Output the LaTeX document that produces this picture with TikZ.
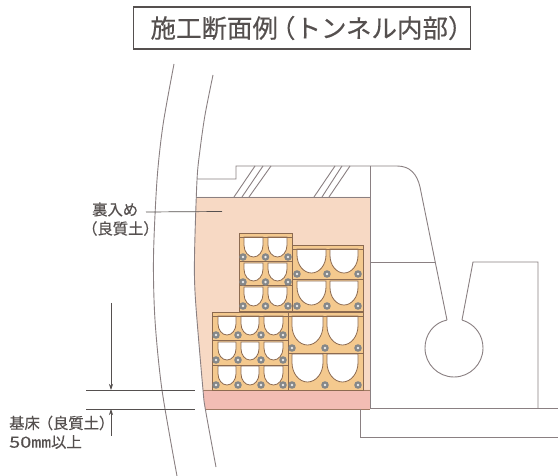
\documentclass[tikz,border=0pt]{standalone}
\usepackage{graphicx}
\usepackage{fontspec}
\setmainfont{Noto Sans CJK JP}[FakeBold=0.35]
\usetikzlibrary{arrows.meta}
\definecolor{linegray}{HTML}{8A8082}
\definecolor{txtgray}{HTML}{55504F}
\definecolor{peach}{HTML}{F7D9C4}
\definecolor{pinkbase}{HTML}{F2BDB4}
\definecolor{blockfill}{HTML}{F4C98E}
\definecolor{blockline}{HTML}{8C6A50}
\definecolor{boltgray}{HTML}{858788}
\tikzset{
  structline/.style={draw=linegray,line width=0.9pt},
  thinline/.style={draw=txtgray,line width=0.7pt},
  dimarrow/.style={thinline,-{Stealth[length=6pt,width=4pt]}},
  blockbody/.style={fill=blockfill,draw=blockline,line width=0.8pt},
  voidshape/.style={fill=white,draw=blockline,line width=0.8pt},
  lab/.style={text=txtgray,font=\fontsize{15.3}{15.3}\selectfont,inner sep=0pt,anchor=west},
  titlebox/.style={draw=txtgray,line width=1.2pt,fill=white,minimum width=337pt,minimum height=42pt,inner sep=0pt,text=txtgray,font=\fontsize{25.5}{25.5}\selectfont}
}
% void: x1 x2 top bottom
\newcommand{\voidU}[4]{%
  \pgfmathsetmacro{\vr}{(#2-#1)/2}\pgfmathsetmacro{\vm}{(#1+#2)/2}%
  \pgfmathsetmacro{\vs}{#4-1.25*\vr}\pgfmathsetmacro{\vc}{#4-0.56*\vr}%
  \pgfmathsetmacro{\va}{\vm-0.55*\vr}\pgfmathsetmacro{\vb}{\vm+0.55*\vr}%
  \path[voidshape] (#1,#3) -- (#1,\vs) .. controls (#1,\vc) and (\va,#4) .. (\vm,#4)
     .. controls (\vb,#4) and (#2,\vc) .. (#2,\vs) -- (#2,#3) -- cycle;}
\newcommand{\boltmark}[2]{%
  \fill[boltgray] (#1,#2) circle[radius=3.8pt];
  \fill[white!85!gray] (#1,#2) circle[radius=1.3pt];}
\begin{document}
\begin{tikzpicture}[x=1pt,y=-1pt]
\useasboundingbox (0,0) rectangle (558,476);
\fill[white] (0,0) rectangle (558,476);
% soil fills
\fill[peach] plot[smooth] coordinates {(196.3,197) (194.5,257) (195.5,300) (203,390)} -- (370,390) -- (370,197) -- cycle;
\fill[pinkbase] (203,390) -- (205,409) -- (370,409) -- (370,390) -- cycle;
\draw[draw=blockline!80!pinkbase,line width=0.7pt] (203,390) -- (370,390);
\draw[draw=blockline!80!pinkbase,line width=0.7pt] (205,409) -- (370,409);
% tunnel curves
\draw[structline] plot[smooth] coordinates {(174,64) (163,125) (157,180) (153.5,257) (155,320) (162,390) (177,476)};
\draw[structline] plot[smooth] coordinates {(213,75) (205,115) (200,150) (197,180) (194.5,257) (195.5,300) (203,390) (205.5,410) (216,467)};
% structure
\draw[structline] (197,179) -- (236,179) -- (236,166) -- (397,166) .. controls (410,166) and (417,174) .. (420,187) -- (447,320);
\draw[structline] (196,197) -- (370,197);
\draw[structline] (370,166) -- (370,408);
\draw[structline] (370,262) -- (435,262);
\draw[structline] (462,320) -- (473,262) -- (538,262) -- (538,408);
\draw[structline] (370,408) -- (558,408);
\draw[structline] (360,409) -- (360,437) -- (558,437);
\draw[structline] (447,320) .. controls (433,323) and (425,335) .. (425,348)
   .. controls (425,364) and (438,377) .. (454,377)
   .. controls (470,377) and (483,364) .. (483,348)
   .. controls (483,335) and (475,324) .. (462,320);
% hatching
\foreach \a/\b in {234/255,242/263,249/271,314/335,322/342,329/350}{\draw[structline] (\a,197) -- (\b,166);}
% upper-left block
\path[blockbody] (239,233) rectangle (292,311);
\foreach \t/\b in {237/257,263/281,287/306}{\voidU{244}{263}{\t}{\b}\voidU{268}{287}{\t}{\b}}
\draw[blockline,line width=0.8pt] (239,237) -- (292,237) (239,261) -- (292,261) (239,285) -- (292,285);
% upper-right block
\path[blockbody] (292,245) rectangle (363,311);
\foreach \t/\b in {249/273,281/305}{\voidU{297}{326}{\t}{\b}\voidU{330}{358}{\t}{\b}}
\draw[blockline,line width=0.8pt] (292,249) -- (363,249) (292,279) -- (363,279);
% lower-left block
\path[blockbody] (212,312) rectangle (288,390);
\foreach \t/\b in {316/335,342/360,366/385}{\voidU{218}{236}{\t}{\b}\voidU{241}{259}{\t}{\b}\voidU{264}{283}{\t}{\b}}
\draw[blockline,line width=0.8pt] (212,316) -- (288,316) (212,340) -- (288,340) (212,365) -- (288,365);
% lower-right block
\path[blockbody] (288,312) rectangle (363,390);
\foreach \t/\b in {316/345,354/382}{\voidU{292}{323}{\t}{\b}\voidU{327}{358}{\t}{\b}}
\draw[blockline,line width=0.8pt] (288,316) -- (363,316) (288,353) -- (363,353);
% bolts
\foreach \y in {257,282,306}{\foreach \x in {243,265.5,288}{\boltmark{\x}{\y}}}
\foreach \y in {274,306}{\foreach \x in {297,327,358}{\boltmark{\x}{\y}}}
\foreach \y in {335,360,385}{\foreach \x in {216,238,261,283}{\boltmark{\x}{\y}}}
\foreach \y in {348,385}{\foreach \x in {292,325,358}{\boltmark{\x}{\y}}}
% title
\node[titlebox] (title) at (302,28) {\makebox[337pt][l]{\hspace{17pt}\raisebox{-1.5pt}{施工断面例\hspace{-8pt}（トンネル内部）}}};
% labels
\node[lab] (backfill) at (92,209.5) {裏入め};
\node[lab] (backfillsoil) at (82,228.5) {（良質土）};
\node[lab] (base) at (9,423) {基床\hspace{-2pt}（良質土）};
\node[lab] (basedim) at (9,442) {\scalebox{1.3}[1]{50㎜}以上};
% leaders
\coordinate (leadA) at (146,212); \coordinate (leadB) at (222,211.5);
\draw[thinline] (leadA) -- (leadB);
\coordinate (dimTopA) at (111,303); \coordinate (dimTopB) at (111,390);
\coordinate (dimBotA) at (111,436); \coordinate (dimBotB) at (111,409);
\draw[dimarrow] (dimTopA) -- (dimTopB);
\draw[dimarrow] (dimBotA) -- (dimBotB);
\coordinate (extA) at (86,390); \coordinate (extB) at (195,390);
\coordinate (extC) at (86,409); \coordinate (extD) at (195,409);
\draw[thinline] (extA) -- (extB);
\draw[thinline] (extC) -- (extD);
\end{tikzpicture}
\end{document}
